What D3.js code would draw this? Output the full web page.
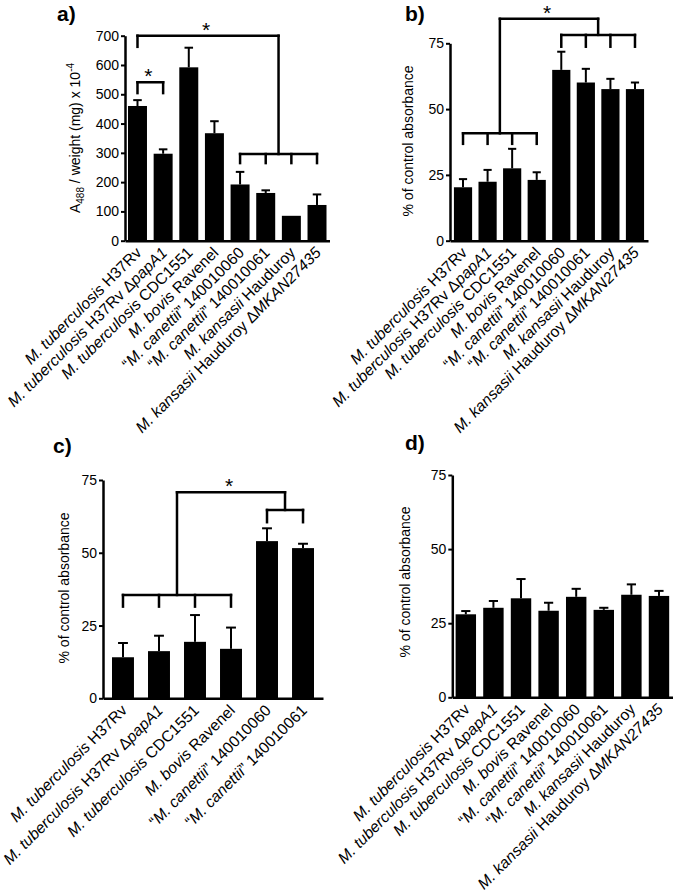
<!DOCTYPE html>
<html>
<head>
<meta charset="utf-8">
<script src="https://cdn.jsdelivr.net/npm/d3@7/dist/d3.min.js"></script>
<style>
  html, body { margin: 0; padding: 0; background: #fff; }
  svg { display: block; font-family: Arial, "Liberation Sans", Helvetica, sans-serif; }
</style>
</head>
<body>
<svg id="chart" width="675" height="896"></svg>
<script>
// ---------------- DATA ----------------
const categories8 = [
  "<i>M. tuberculosis</i> H37Rv",
  "<i>M. tuberculosis</i> H37Rv Δ<i>papA1</i>",
  "<i>M. tuberculosis</i> CDC1551",
  "<i>M. bovis</i> Ravenel",
  "“<i>M. canettii</i>” 140010060",
  "“<i>M. canettii</i>” 140010061",
  "<i>M. kansasii</i> Hauduroy",
  "<i>M. kansasii</i> Hauduroy Δ<i>MKAN27435</i>"
];
const categories6 = categories8.slice(0, 6);

const valuesA = [460, 297, 592, 367, 192, 163, 85, 122];
const errorsA = [20, 15, 67, 41, 43, 9, 0, 36];
const valuesB = [20.3, 22.4, 27.5, 23.1, 64.9, 60.1, 57.6, 57.6];
const errorsB = [3.1, 4.5, 7.4, 2.9, 6.9, 5.2, 3.9, 2.5];
const valuesC = [14.1, 16.2, 19.4, 17.0, 54.0, 51.6];
const errorsC = [4.9, 5.3, 9.2, 7.3, 4.4, 1.5];
const valuesD = [28.0, 30.2, 33.4, 29.2, 33.9, 29.5, 34.6, 34.2];
const errorsD = [1.1, 2.3, 6.5, 2.7, 2.7, 0.7, 3.5, 1.7];

const ticksA = [0, 100, 200, 300, 400, 500, 600, 700];
const ticksPct = [0, 25, 50, 75];

// significance brackets (levels in data units)
const sigA = [
  { left: { bars: [0], legEnd: 504 }, right: { bars: [1], legEnd: 504 }, top: 541 },
  { left: { bars: [0], legEnd: 662 }, right: { bars: [4, 5, 6, 7], comb: 296, legEnd: 265 }, top: 700 }
];
const sigB = [
  { left: { bars: [0, 1, 2, 3], comb: 40.8, legEnd: 36.8 }, right: { bars: [4, 5, 6, 7], comb: 78.2, legEnd: 73.7 }, top: 84.3 }
];
const sigC = [
  { left: { bars: [0, 1, 2, 3], comb: 35.5, legEnd: 31.5 }, right: { bars: [4, 5], comb: 64.7, legEnd: 60.5 }, top: 70.8 }
];
const sigD = [];

// ---------------- LAYOUT ----------------
const panels = [
  { id: "a)", labelPos: [57, 21], cats: categories8, vals: valuesA, errs: errorsA, ticks: ticksA, max: 700,
    x0: 125, x1: 329.5, pi: 0.26, po: 0.117, yBottom: 240.7, yTop: 35.7, sig: sigA,
    yTitle: "A", titlePos: [80, 138] },
  { id: "b)", labelPos: [405, 21], cats: categories8, vals: valuesB, errs: errorsB, ticks: ticksPct, max: 75,
    x0: 450, x1: 648, pi: 0.26, po: 0.16, yBottom: 240.7, yTop: 43.3, sig: sigB,
    yTitle: "% of control absorbance", titlePos: [413, 141] },
  { id: "c)", labelPos: [53, 453], cats: categories6, vals: valuesC, errs: errorsC, ticks: ticksPct, max: 75,
    x0: 103, x1: 323, pi: 0.39, po: 0.25, yBottom: 698.3, yTop: 480, sig: sigC,
    yTitle: "% of control absorbance", titlePos: [69, 588] },
  { id: "d)", labelPos: [405, 450], cats: categories8, vals: valuesD, errs: errorsD, ticks: ticksPct, max: 75,
    x0: 452.3, x1: 672.5, pi: 0.26, po: 0.12, yBottom: 697.3, yTop: 475, sig: sigD,
    yTitle: "% of control absorbance", titlePos: [410, 582] }
];

const svg = d3.select("#chart");

function addRichText(sel, str) {
  const parts = str.split(/(<i>.*?<\/i>)/).filter(s => s.length);
  parts.forEach(p => {
    const it = p.startsWith("<i>");
    sel.append("tspan")
      .attr("font-style", it ? "italic" : "normal")
      .text(it ? p.slice(3, -4) : p);
  });
}

panels.forEach(P => {
  const g = svg.append("g");
  const idx = P.vals.map((_, i) => i);
  const x = d3.scaleBand().domain(idx).range([P.x0, P.x1]).paddingInner(P.pi).paddingOuter(P.po);
  const y = d3.scaleLinear().domain([0, P.max]).range([P.yBottom, P.yTop]);
  const cx = i => x(i) + x.bandwidth() / 2;

  // panel label
  g.append("text").attr("x", P.labelPos[0]).attr("y", P.labelPos[1])
    .attr("font-size", 21).attr("font-weight", "bold").text(P.id);

  // bars
  g.selectAll("rect.bar").data(idx).join("rect").attr("class", "bar")
    .attr("x", i => x(i)).attr("width", x.bandwidth())
    .attr("y", i => y(P.vals[i])).attr("height", i => y(0) - y(P.vals[i]))
    .attr("fill", "#000");

  // error bars (upper)
  const cap = x.bandwidth() * 0.45;
  const eb = g.selectAll("g.err").data(idx.filter(i => P.errs[i] > 0)).join("g").attr("class", "err")
    .attr("stroke", "#000").attr("stroke-width", 2);
  eb.append("line").attr("x1", cx).attr("x2", cx)
    .attr("y1", i => y(P.vals[i])).attr("y2", i => y(P.vals[i] + P.errs[i]));
  eb.append("line").attr("x1", i => cx(i) - cap / 2).attr("x2", i => cx(i) + cap / 2)
    .attr("y1", i => y(P.vals[i] + P.errs[i])).attr("y2", i => y(P.vals[i] + P.errs[i]));

  // y axis
  const ya = g.append("g").attr("transform", `translate(${P.x0},0)`)
    .call(d3.axisLeft(y).tickValues(P.ticks).tickSize(4).tickSizeOuter(0).tickPadding(2));
  ya.select(".domain").attr("stroke-width", 2.5).attr("stroke", "#000");
  ya.selectAll(".tick line").attr("stroke-width", 2).attr("stroke", "#000");
  ya.selectAll(".tick text").attr("font-size", 14).attr("fill", "#000").attr("font-family", null);

  // x axis
  const xa = g.append("g").attr("transform", `translate(0,${P.yBottom})`)
    .call(d3.axisBottom(x).tickSize(0).tickSizeOuter(0).tickFormat(""));
  xa.select(".domain").attr("stroke-width", 2.5).attr("stroke", "#000");

  // category labels
  g.selectAll("text.cat").data(idx).join("text").attr("class", "cat")
    .attr("text-anchor", "end").attr("font-size", 15.7).attr("fill", "#000")
    .attr("transform", i => `translate(${cx(i) + 5},${P.yBottom + 13}) rotate(-45)`)
    .each(function (i) { addRichText(d3.select(this), P.cats[i]); });

  // y title
  const yt = g.append("text").attr("text-anchor", "middle").attr("font-size", 14).attr("fill", "#000")
    .attr("transform", `translate(${P.titlePos[0]},${P.titlePos[1]}) rotate(-90)`);
  if (P.yTitle === "A") {
    yt.append("tspan").text("A");
    yt.append("tspan").attr("font-size", 10).attr("dy", 4).text("488");
    yt.append("tspan").attr("dy", -4).text(" / weight  (mg) x 10");
    yt.append("tspan").attr("font-size", 10).attr("dy", -6).text("-4");
  } else {
    yt.text(P.yTitle);
  }

  // significance brackets
  const bg = g.append("g").attr("stroke", "#000").attr("stroke-width", 2.5)
    .attr("stroke-linecap", "square").attr("fill", "none");
  P.sig.forEach(s => {
    const anchorX = el => {
      const xs = el.bars.map(cx);
      return (d3.min(xs) + d3.max(xs)) / 2;
    };
    [s.left, s.right].forEach(el => {
      if (el.comb === undefined) {
        bg.append("line").attr("x1", cx(el.bars[0])).attr("x2", cx(el.bars[0]))
          .attr("y1", y(s.top)).attr("y2", y(el.legEnd));
      } else {
        const xs = el.bars.map(cx);
        bg.append("line").attr("x1", d3.min(xs)).attr("x2", d3.max(xs))
          .attr("y1", y(el.comb)).attr("y2", y(el.comb));
        xs.forEach(xx => bg.append("line").attr("x1", xx).attr("x2", xx)
          .attr("y1", y(el.comb)).attr("y2", y(el.legEnd)));
        const mx = anchorX(el);
        bg.append("line").attr("x1", mx).attr("x2", mx).attr("y1", y(s.top)).attr("y2", y(el.comb));
      }
    });
    const lx = anchorX(s.left), rx = anchorX(s.right);
    bg.append("line").attr("x1", lx).attr("x2", rx).attr("y1", y(s.top)).attr("y2", y(s.top));
    g.append("text").attr("x", (lx + rx) / 2 - 2).attr("y", y(s.top) + 1)
      .attr("text-anchor", "middle").attr("font-size", 21).attr("fill", "#000").text("*");
  });
});
</script>
</body>
</html>
